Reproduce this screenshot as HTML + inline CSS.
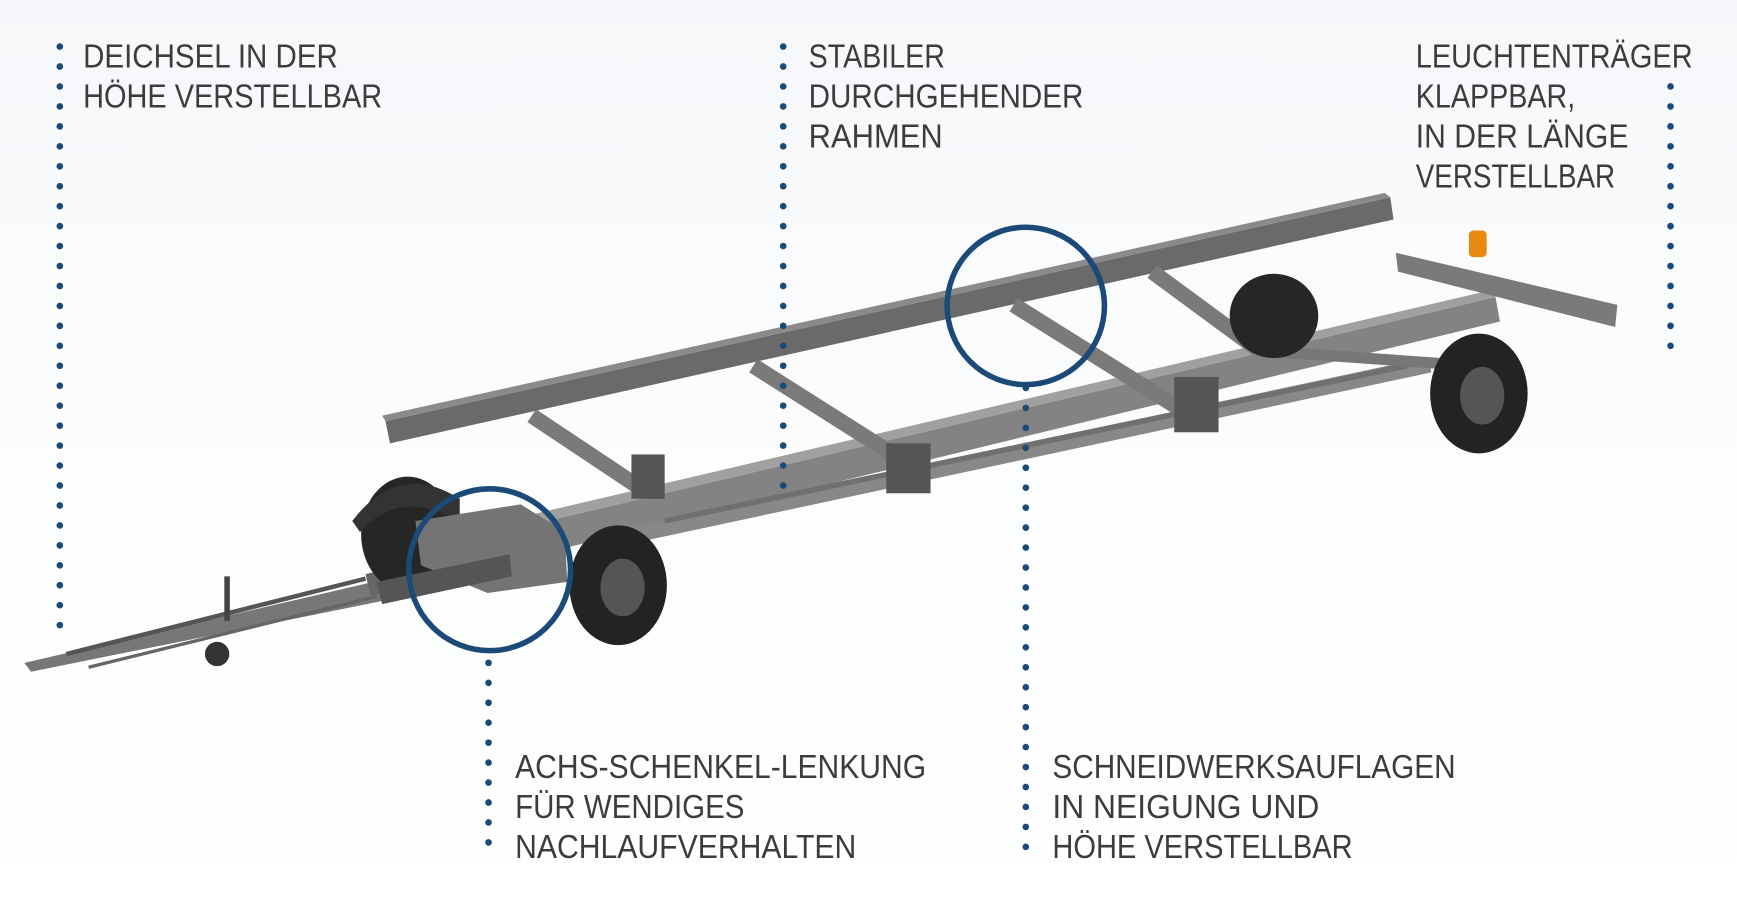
<!DOCTYPE html>
<html><head><meta charset="utf-8"><style>
html,body{margin:0;padding:0;background:#fff;}
svg{display:block;}
text{font-family:"Liberation Sans",sans-serif;font-size:30px;fill:#3c3c3c;}
</style></head><body>
<svg width="1737" height="920" viewBox="0 0 1568 830" preserveAspectRatio="none" xmlns="http://www.w3.org/2000/svg">
<defs><linearGradient id="bg" x1="0" y1="0" x2="0" y2="1">
<stop offset="0" stop-color="#f5f7fa"/><stop offset="0.35" stop-color="#fbfcfd"/><stop offset="1" stop-color="#ffffff"/></linearGradient></defs>
<rect width="1568" height="830" fill="url(#bg)"/>

<g>
<polygon points="22,598 350,522 356,540 28,606" fill="#777"/>
<line x1="60" y1="590" x2="330" y2="522" stroke="#555" stroke-width="4"/>
<line x1="80" y1="602" x2="340" y2="538" stroke="#666" stroke-width="3"/>
<rect x="330" y="518" width="110" height="20" fill="#666" transform="rotate(-13 330 518)"/>
<line x1="205" y1="520" x2="205" y2="560" stroke="#444" stroke-width="5"/>
<circle cx="196" cy="590" r="11" fill="#333"/>
<ellipse cx="368" cy="482" rx="42" ry="52" fill="#262626"/>
<path d="M318,470 Q360,415 415,450 L415,470 Q360,440 325,480Z" fill="#333"/>
<polygon points="460,478 1350,268 1354,290 466,505" fill="#838383"/>
<polygon points="460,478 1350,268 1345,262 455,470" fill="#a0a0a0"/>
<polygon points="560,478 1290,322 1292,336 562,492" fill="#888"/>
<line x1="600" y1="470" x2="1270" y2="330" stroke="#707070" stroke-width="5"/>
<polygon points="375,470 470,455 510,480 512,525 440,535 380,510" fill="#747474"/>
<polygon points="340,525 460,500 462,520 345,545" fill="#555"/>
<polygon points="348,380 1255,178 1258,198 352,400" fill="#6a6a6a"/>
<polygon points="348,380 1255,178 1250,174 345,375" fill="#8a8a8a"/>
<line x1="480" y1="375" x2="585" y2="445" stroke="#7a7a7a" stroke-width="14"/>
<line x1="680" y1="330" x2="830" y2="425" stroke="#7a7a7a" stroke-width="14"/>
<line x1="915" y1="275" x2="1075" y2="375" stroke="#7a7a7a" stroke-width="14"/>
<line x1="1040" y1="245" x2="1135" y2="315" stroke="#7a7a7a" stroke-width="14"/>
<rect x="570" y="410" width="30" height="40" fill="#555"/>
<rect x="800" y="400" width="40" height="45" fill="#555"/>
<rect x="1060" y="340" width="40" height="50" fill="#555"/>
<line x1="1160" y1="318" x2="1330" y2="330" stroke="#777" stroke-width="10"/>
<ellipse cx="558" cy="528" rx="44" ry="54" fill="#232323"/>
<ellipse cx="562" cy="530" rx="20" ry="26" fill="#555"/>
<ellipse cx="1150" cy="285" rx="40" ry="38" fill="#262626"/>
<ellipse cx="1335" cy="355" rx="44" ry="54" fill="#232323"/>
<ellipse cx="1338" cy="357" rx="20" ry="26" fill="#555"/>
<polygon points="1260,228 1460,275 1458,295 1262,245" fill="#7a7a7a"/>
<rect x="1326" y="208" width="16" height="24" rx="4" fill="#e88a10"/>
</g>

<circle cx="926" cy="276" r="71" fill="none" stroke="#1b4a78" stroke-width="5"/>
<circle cx="442" cy="514" r="73" fill="none" stroke="#1b4a78" stroke-width="5"/>

<g stroke="#1b4a78" stroke-width="6" stroke-linecap="round" stroke-dasharray="0 18" fill="none">
<line x1="54" y1="42" x2="54" y2="580"/>
<line x1="707" y1="42" x2="707" y2="450"/>
<line x1="1508" y1="78" x2="1508" y2="316"/>
<line x1="926" y1="350" x2="926" y2="776"/>
<line x1="441" y1="598" x2="441" y2="776"/>
</g>

<text x="75" y="61" textLength="230" lengthAdjust="spacingAndGlyphs">DEICHSEL IN DER</text>
<text x="75" y="97" textLength="270" lengthAdjust="spacingAndGlyphs">HÖHE VERSTELLBAR</text>
<text x="730" y="61" textLength="123" lengthAdjust="spacingAndGlyphs">STABILER</text>
<text x="730" y="97" textLength="248" lengthAdjust="spacingAndGlyphs">DURCHGEHENDER</text>
<text x="730" y="133" textLength="121" lengthAdjust="spacingAndGlyphs">RAHMEN</text>
<text x="1278" y="61" textLength="250" lengthAdjust="spacingAndGlyphs">LEUCHTENTRÄGER</text>
<text x="1278" y="97" textLength="144" lengthAdjust="spacingAndGlyphs">KLAPPBAR,</text>
<text x="1278" y="133" textLength="192" lengthAdjust="spacingAndGlyphs">IN DER LÄNGE</text>
<text x="1278" y="169" textLength="180" lengthAdjust="spacingAndGlyphs">VERSTELLBAR</text>
<text x="465" y="702" textLength="371" lengthAdjust="spacingAndGlyphs">ACHS-SCHENKEL-LENKUNG</text>
<text x="465" y="738" textLength="207" lengthAdjust="spacingAndGlyphs">FÜR WENDIGES</text>
<text x="465" y="774" textLength="308" lengthAdjust="spacingAndGlyphs">NACHLAUFVERHALTEN</text>
<text x="950" y="702" textLength="364" lengthAdjust="spacingAndGlyphs">SCHNEIDWERKSAUFLAGEN</text>
<text x="950" y="738" textLength="241" lengthAdjust="spacingAndGlyphs">IN NEIGUNG UND</text>
<text x="950" y="774" textLength="271" lengthAdjust="spacingAndGlyphs">HÖHE VERSTELLBAR</text>
</svg>
</body></html>
